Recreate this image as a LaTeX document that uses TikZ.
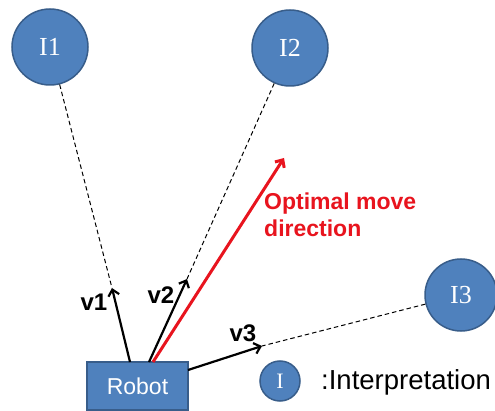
\documentclass[tikz,border=0pt]{standalone}
\usepackage{fontspec}
\setmainfont{Liberation Sans}
\newfontfamily\serifnum{Liberation Serif}
\usetikzlibrary{arrows.meta}
\definecolor{interfill}{HTML}{4F81BD}
\definecolor{interedge}{HTML}{385D8A}
\definecolor{optred}{HTML}{E8141E}
\tikzset{
  interp/.style={circle, fill=interfill, draw=interedge, line width=1.5pt,
    minimum size=#1, inner sep=0pt, text=white, font=\serifnum\fontsize{26}{26}\selectfont},
  interp/.default=76pt,
  vec/.style={-{Straight Barb[length=6pt,width=11pt]}, line width=2.2pt},
  sight/.style={line width=1pt, dash pattern=on 4.5pt off 3pt},
  veclabel/.style={font=\bfseries\fontsize{24}{24}\selectfont}
}
\begin{document}
\begin{tikzpicture}[x=1pt,y=-1pt]
\useasboundingbox (0,0) rectangle (495,411);
% interpretations
\node[interp] (i1) at (50,47) {I1};
\node[interp] (i2) at (290,48) {I2};
\node[interp=72pt] (i3) at (461,295) {I3};
% robot
\node[fill=interfill, draw=interedge, line width=1.5pt, minimum width=101pt,
  minimum height=48pt, inner sep=0pt, text=white,
  font=\fontsize{23}{23}\selectfont] (robot) at (137.5,386) {Robot};
% vector end points
\coordinate (t1) at (112,288);
\coordinate (t2) at (187,279);
\coordinate (t3) at (262,346);
\coordinate (topt) at (284,158);
\coordinate (r1) at (130,362);
\coordinate (r2) at (149,362);
\coordinate (r3) at (188,370);
\coordinate (rr) at (153,362);
% lines of sight
\draw[sight] (i1) -- (t1);
\draw[sight] (i2) -- (t2);
\draw[sight] (i3) -- (t3);
% vectors
\draw[vec] (r1) -- (t1);
\draw[vec] (r2) -- (t2);
\draw[vec] (r3) -- (t3);
\draw[vec, optred, line width=3pt] (rr) -- (topt);
% labels
\node[veclabel] (l1) at (94,302) {v1};
\node[veclabel] (l2) at (161,295) {v2};
\node[veclabel] (l3) at (243,333) {v3};
\node[anchor=north west, align=left, text=optred, inner sep=0pt,
  font=\bfseries\fontsize{23}{27}\selectfont] (opt) at (264,193) {Optimal move\\direction};
% legend
\node[interp=40pt, font=\serifnum\fontsize{22}{22}\selectfont] (leg) at (280,381) {I};
\node[anchor=west, inner sep=0pt, font=\fontsize{27.5}{27.5}\selectfont] (legtxt) at (321,382) {:Interpretation};
\end{tikzpicture}
\end{document}
